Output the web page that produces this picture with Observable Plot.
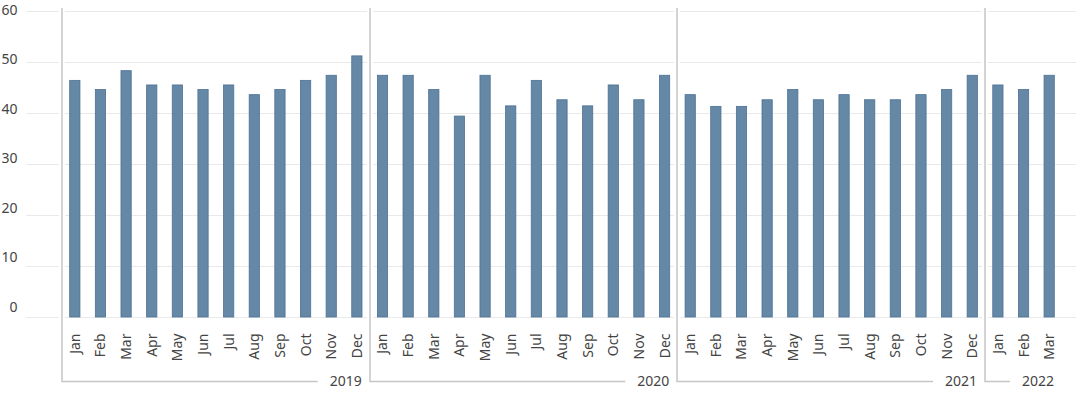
<!DOCTYPE html>
<html>
<head>
<meta charset="utf-8">
<script src="https://cdn.jsdelivr.net/npm/d3@7"></script>
<script src="https://cdn.jsdelivr.net/npm/@observablehq/plot@0.6"></script>
<style>
  html, body { margin: 0; padding: 0; background: #ffffff; }
  #chart svg { display: block; }
</style>
</head>
<body>
<div id="chart"></div>
<script>
const years = ["2019", "2020", "2021", "2022"];
const months = ["Jan", "Feb", "Mar", "Apr", "May", "Jun", "Jul", "Aug", "Sep", "Oct", "Nov", "Dec"];
const values2019 = [46.4, 44.6, 48.3, 45.5, 45.5, 44.6, 45.5, 43.6, 44.6, 46.4, 47.4, 51.2];
const values2020 = [47.4, 47.4, 44.6, 39.4, 47.4, 41.4, 46.4, 42.6, 41.4, 45.5, 42.6, 47.4];
const values2021 = [43.6, 41.3, 41.3, 42.6, 44.6, 42.6, 43.6, 42.6, 42.6, 43.6, 44.6, 47.4];
const values2022 = [45.5, 44.6, 47.4];
const yTicks = [0, 10, 20, 30, 40, 50, 60];

const seriesByYear = [values2019, values2020, values2021, values2022];
const data = [];
years.forEach((yr, i) => {
  seriesByYear[i].forEach((v, j) => {
    data.push({ year: yr, month: months[j], key: yr + "-" + months[j], value: v });
  });
});

const FONT = "'Noto Sans', 'Open Sans', sans-serif";
const W = 1076, H = 399;
const PAD = 0.6;
// slots run from 62 to 1062; widen the range by the outer padding
const slotStart = 62, slotEnd = 1062;
const nBands = data.length;
const stepPx = (slotEnd - slotStart) / nBands;
const xRange = [slotStart - stepPx * PAD / 2, slotEnd + stepPx * PAD / 2];

function yearBrackets(index, scales, values, dimensions) {
  const x = scales.x, y = scales.y;
  const step = typeof x.step === "function" ? x.step() : x.step;
  const bw = typeof x.bandwidth === "function" ? x.bandwidth() : x.bandwidth;
  const g = d3.create("svg:g");
  const top = y(60) - 3;
  const bottom = dimensions.height - 17.5;
  years.forEach((yr) => {
    const keys = data.filter(d => d.year === yr).map(d => d.key);
    const x0 = Math.round(x(keys[0]) + bw / 2 - step / 2);
    const x1 = x(keys[keys.length - 1]) + bw / 2 + step / 2;
    g.append("line")
      .attr("x1", x0).attr("x2", x0)
      .attr("y1", top).attr("y2", y(0) + 1)
      .attr("stroke", "#ffffff").attr("stroke-width", 6);
    g.append("path")
      .attr("d", `M${x0},${top}V${bottom}H${x1 - 52}`)
      .attr("fill", "none")
      .attr("stroke", "#c6c6c6")
      .attr("stroke-width", 1.5);
    g.append("text")
      .attr("x", x1 - 8)
      .attr("y", bottom)
      .attr("dy", "0.35em")
      .attr("text-anchor", "end")
      .attr("font-family", FONT)
      .attr("font-size", 14)
      .attr("fill", "#444444")
      .text(yr);
  });
  return g.node();
}

// y tick labels sit progressively higher above their gridlines in the original
const yAxes = yTicks.map(t => Plot.axisY([t], {
  tickSize: 0, tickPadding: 9, dy: -1.4 - (60 - t) / 60 * 8.6,
  fontSize: 14, fill: "#444444", label: null
}));

const chart = Plot.plot({
  width: W,
  height: H,
  marginLeft: 26,
  marginRight: 0,
  marginTop: 11,
  marginBottom: 82,
  style: { fontFamily: FONT, background: "#ffffff", overflow: "visible" },
  x: { domain: data.map(d => d.key), range: xRange, padding: PAD, round: false, label: null },
  y: { domain: [0, 60], label: null },
  marks: [
    Plot.ruleY(yTicks, { stroke: "#e9e9e9", strokeWidth: 1.2 }),
    yearBrackets,
    Plot.barY(data, { x: "key", y: "value", fill: "#6588a7", stroke: "#4d7194", strokeWidth: 0.8 }),
    ...yAxes,
    Plot.axisX({ tickSize: 0, tickPadding: 16, tickRotate: -90, fontSize: 14, fill: "#444444",
                 tickFormat: k => k.split("-")[1], label: null })
  ]
});

document.getElementById("chart").appendChild(chart);
</script>
</body>
</html>
